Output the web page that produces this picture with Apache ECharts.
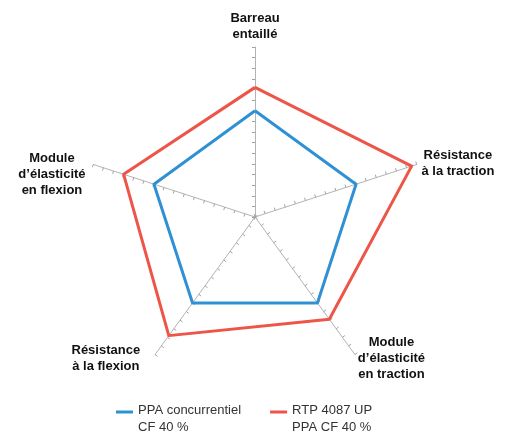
<!DOCTYPE html>
<html>
<head>
<meta charset="utf-8">
<script src="https://cdn.jsdelivr.net/npm/echarts@6/dist/echarts.min.js"></script>
<style>
  html, body { margin: 0; padding: 0; background: #fff; }
  #chart { width: 512px; height: 445px; }
</style>
</head>
<body>
<div id="chart"></div>
<script>
// axes, counterclockwise from the top
const indicators = [
  'Barreau\nentaillé',
  'Module\nd’élasticité\nen flexion',
  'Résistance\nà la flexion',
  'Module\nd’élasticité\nen traction',
  'Résistance\nà la traction'
]
const axisMax = 160
const seriesNames = ['PPA concurrentiel CF 40 %', 'RTP 4087 UP PPA CF 40 %']
const legendLabels = ['PPA concurrentiel\nCF 40 %', 'RTP 4087 UP\nPPA CF 40 %']
const ppaValues = [100, 100, 100, 100, 100]
const rtpValues = [122, 130, 138, 119, 155]

// small nudges so the names sit like in the original
const nameFormat = [
  n => '{n|' + n + '}',
  n => '{down|}\n{nl|' + n + '}',
  n => '{nll|' + n + '}',
  n => '{n|' + n + '}',
  n => '{n|' + n + '}'
]

const nameStyle = {
  align: 'center',
  fontFamily: 'Liberation Sans',
  fontWeight: 'bold',
  fontSize: 13,
  lineHeight: 16,
  color: '#111'
}

const chart = echarts.init(document.getElementById('chart'))

const option = {
  animation: false,
  legend: {
    data: seriesNames,
    left: 116,
    top: 402,
    padding: 0,
    itemGap: 29,
    itemWidth: 17,
    itemHeight: 17,
    icon: 'path://M0,0H17V3H0Z M0,16.98H0.02V17H0Z',
    formatter: name => legendLabels[seriesNames.indexOf(name)],
    textStyle: {
      fontFamily: 'Liberation Sans',
      fontSize: 13,
      lineHeight: 17,
      color: '#333'
    }
  },
  radar: {
    center: [255, 217],
    radius: 170,
    shape: 'polygon',
    splitNumber: 16,
    indicator: indicators.map(name => ({ name, min: 0, max: axisMax })),
    axisName: {
      formatter: name => nameFormat[indicators.indexOf(name)](name),
      rich: {
        n: nameStyle,
        nl: Object.assign({}, nameStyle, { padding: [0, 3, 0, 0] }),
        nll: Object.assign({}, nameStyle, { padding: [0, 12, 0, 0] }),
        down: { lineHeight: 22, height: 22 }
      }
    },
    nameGap: 5,
    axisLine: { lineStyle: { color: '#b3b3b3', width: 1 } },
    axisTick: { show: true, length: 3, lineStyle: { color: '#a0a0a0' } },
    splitLine: { show: false },
    splitArea: { show: false }
  },
  series: [
    {
      type: 'radar',
      symbol: 'none',
      data: [
        {
          name: seriesNames[0],
          value: ppaValues,
          lineStyle: { color: '#2f91d3', width: 3 },
          itemStyle: { color: '#2f91d3' }
        },
        {
          name: seriesNames[1],
          value: rtpValues,
          lineStyle: { color: '#ec5547', width: 3 },
          itemStyle: { color: '#ec5547' }
        }
      ]
    }
  ]
}

chart.setOption(option)
</script>
</body>
</html>
